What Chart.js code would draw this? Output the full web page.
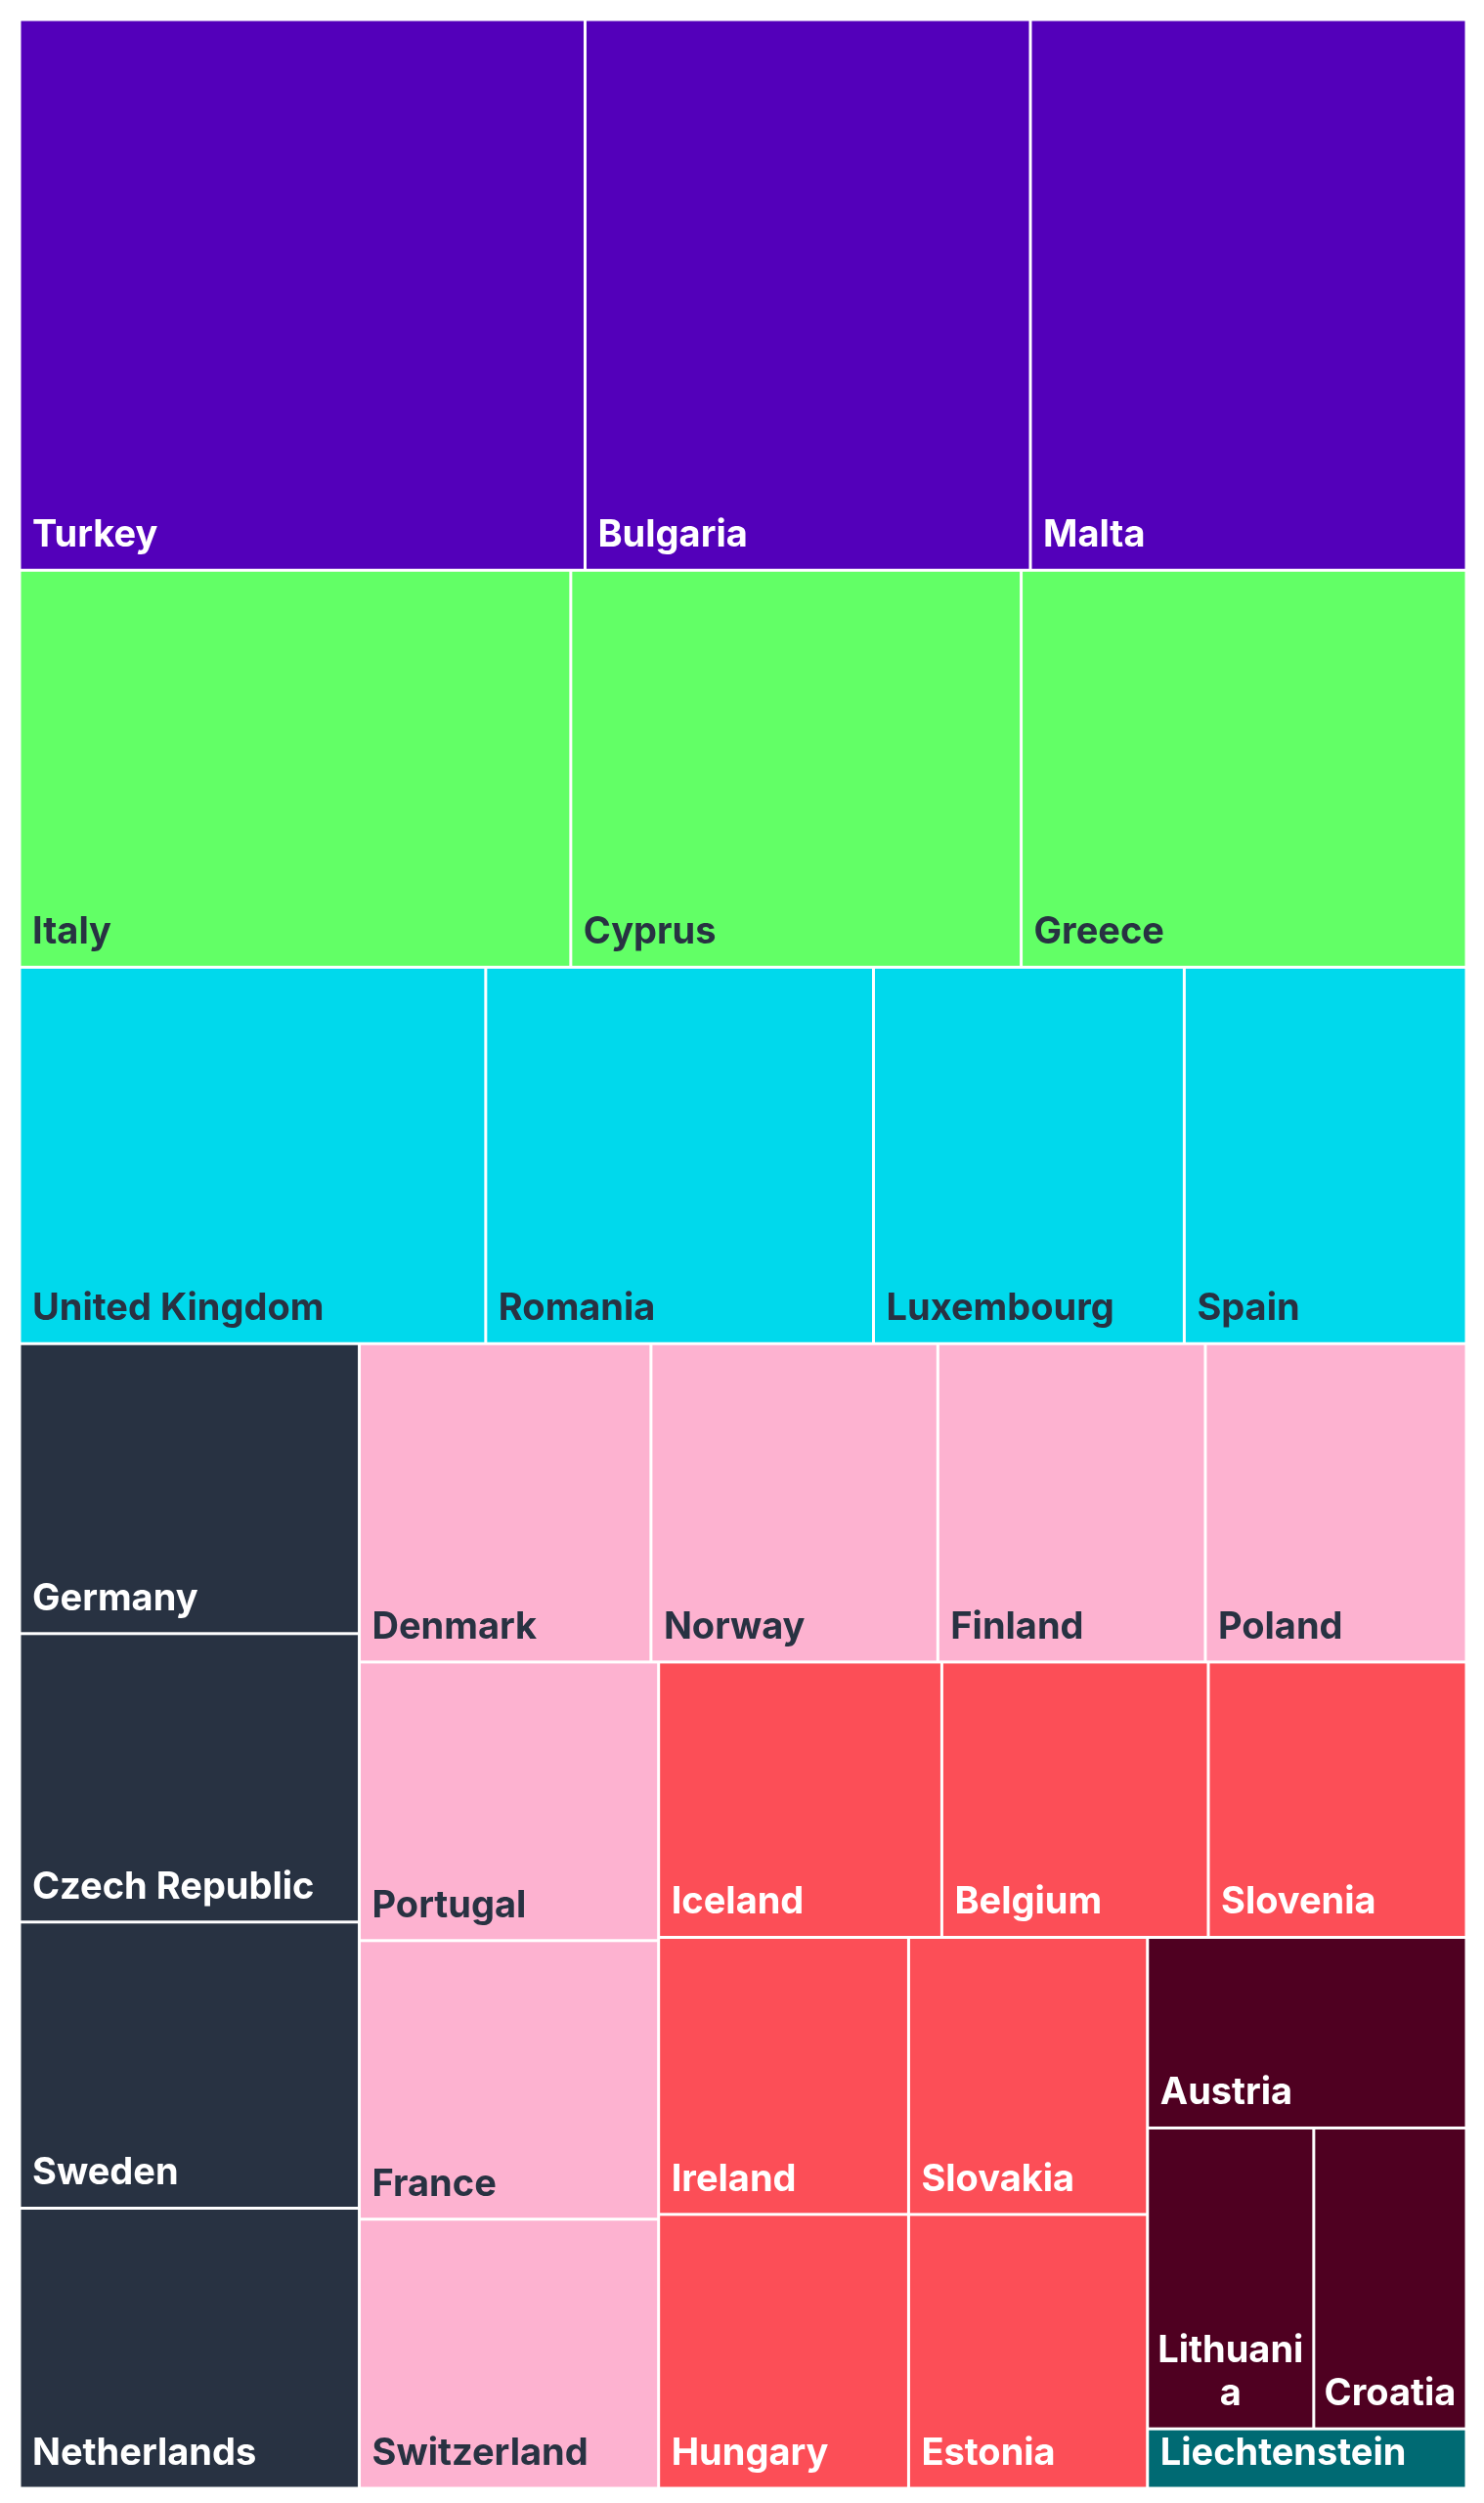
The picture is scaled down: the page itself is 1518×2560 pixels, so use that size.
<!DOCTYPE html>
<html>
<head>
<meta charset="utf-8">
<script src="https://cdn.jsdelivr.net/npm/chart.js@4"></script>
<style>
  body { margin: 0; background: #fff; }
  #wrap { width: 1518px; height: 2560px; }
</style>
</head>
<body>
<div id="wrap"><canvas id="chart"></canvas></div>
<script>
const countries = ['Turkey', 'Bulgaria', 'Malta', 'Italy', 'Cyprus', 'Greece',
    'United Kingdom', 'Romania', 'Luxembourg', 'Spain',
    'Germany', 'Czech Republic', 'Sweden', 'Netherlands',
    'Denmark', 'Norway', 'Finland', 'Poland', 'Portugal', 'France', 'Switzerland',
    'Iceland', 'Belgium', 'Slovenia', 'Ireland', 'Hungary', 'Slovakia', 'Estonia',
    'Austria', 'Lithuania', 'Croatia', 'Liechtenstein'];
const values = [121.4, 95.6, 93.6, 85.3, 69.7, 68.9,
    68.4, 56.9, 45.6, 41.4,
    38.4, 38.2, 37.9, 37.1,
    36.2, 35.6, 33.2, 32.4, 32.5, 32.5, 31.4,
    30.4, 28.6, 27.7, 27.0, 26.7, 25.8, 25.5,
    23.7, 19.5, 17.9, 7.4];
const groups = [0, 0, 0, 1, 1, 1, 2, 2, 2, 2, 3, 3, 3, 3,
    4, 4, 4, 4, 4, 4, 4, 5, 5, 5, 5, 5, 5, 5, 6, 6, 6, 7];
const groupColors = ['#5300ba', '#62ff66', '#00d9ec', '#283242', '#fdb2d0', '#fc4e57', '#4f0021', '#006a73'];
const labelColors = ['#ffffff', '#283242', '#283242', '#ffffff', '#283242', '#ffffff', '#ffffff', '#ffffff'];

function worst(row, side) {
    const s = row.reduce((a, b) => a + b.area, 0);
    let max = 0;
    row.forEach(r => {
        max = Math.max(max, (side * side * r.area) / (s * s), (s * s) / (side * side * r.area));
    });
    return max;
}

function squarify(items, x, y, w, h) {
    const out = [];
    let row = [];
    let i = 0;
    function layoutRow() {
        const s = row.reduce((a, b) => a + b.area, 0);
        if (w >= h) {
            const cw = s / h;
            let cy = y;
            row.forEach(r => { const rh = r.area / cw; out.push({ ...r, x: x, y: cy, w: cw, h: rh }); cy += rh; });
            x += cw; w -= cw;
        } else {
            const rh = s / w;
            let cx = x;
            row.forEach(r => { const rw = r.area / rh; out.push({ ...r, x: cx, y: y, w: rw, h: rh }); cx += rw; });
            y += rh; h -= rh;
        }
        row = [];
    }
    while (i < items.length) {
        const side = Math.min(w, h);
        const c = items[i];
        if (row.length === 0 || worst(row.concat([c]), side) <= worst(row, side)) {
            row.push(c);
            i++;
        } else {
            layoutRow();
        }
    }
    if (row.length) layoutRow();
    return out;
}

const treemapPlugin = {
    id: 'treemap',
    afterDatasetsDraw(chart) {
        const { ctx, chartArea, scales } = chart;
        const W = chartArea.right - chartArea.left;
        const H = chartArea.bottom - chartArea.top;
        const total = values.reduce((a, b) => a + b, 0);
        const items = values.map((v, i) => ({ i, area: v / total * W * H }));
        const rects = squarify(items, 0, 0, W, H);
        const gap = 1.5;
        rects.forEach(r => {
            const x0 = scales.x.getPixelForValue(r.x / W * 100);
            const x1 = scales.x.getPixelForValue((r.x + r.w) / W * 100);
            const y0 = scales.y.getPixelForValue(r.y / H * 100);
            const y1 = scales.y.getPixelForValue((r.y + r.h) / H * 100);
            const g = groups[r.i];
            ctx.fillStyle = groupColors[g];
            ctx.fillRect(x0 + gap, y0 + gap, x1 - x0 - 2 * gap, y1 - y0 - 2 * gap);

            const name = countries[r.i];
            ctx.fillStyle = labelColors[g];
            let size = 38;
            ctx.font = `bold ${size}px Inter, "DejaVu Sans", sans-serif`;
            const pad = 13;
            const avail = x1 - x0 - 2 * pad;
            if (ctx.measureText(name).width <= avail) {
                ctx.textAlign = 'left';
                ctx.textBaseline = 'alphabetic';
                ctx.fillText(name, x0 + pad, y1 - 24);
            } else {
                // break into chunks that fit, centered in the cell
                if (avail < 80) size = 30;
                ctx.font = `bold ${size}px Inter, "DejaVu Sans", sans-serif`;
                const lines = [];
                let cur = '';
                for (const ch of name) {
                    if (ctx.measureText(cur + ch).width > (x1 - x0 - 14) && cur) { lines.push(cur); cur = ch; }
                    else cur += ch;
                }
                if (cur) lines.push(cur);
                const lh = size * 1.17;
                ctx.textAlign = 'center';
                ctx.textBaseline = 'alphabetic';
                const cx = (x0 + x1) / 2;
                lines.forEach((l, k) => {
                    ctx.fillText(l, cx, y1 - 24 - (lines.length - 1 - k) * lh);
                });
            }
        });
    }
};

const chart = new Chart(document.getElementById('chart'), {
    type: 'scatter',
    data: { datasets: [{ data: [] }] },
    options: {
        responsive: true,
        maintainAspectRatio: false,
        animation: false,
        layout: { padding: { left: 20, right: 18, top: 20, bottom: 15 } },
        scales: {
            x: { display: false, min: 0, max: 100 },
            y: { display: false, min: 0, max: 100, reverse: true }
        },
        plugins: { legend: { display: false }, tooltip: { enabled: false } }
    },
    plugins: [treemapPlugin]
});
</script>
</body>
</html>
